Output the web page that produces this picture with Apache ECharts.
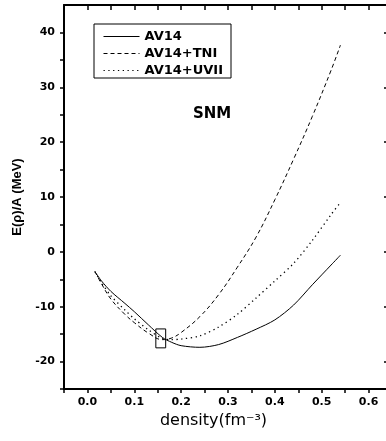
<!DOCTYPE html>
<html>
<head>
<meta charset="utf-8">
<script src="https://cdn.jsdelivr.net/npm/echarts@6/dist/echarts.min.js"></script>
<style>html,body{margin:0;padding:0;background:#fff}#c{width:386px;height:441px}</style>
</head>
<body>
<div id="c"></div>
<script>
var density  = [0.016, 0.03, 0.05, 0.08, 0.10, 0.13, 0.16, 0.18, 0.20, 0.24, 0.28, 0.32, 0.36, 0.40, 0.44, 0.48, 0.52, 0.54];
var av14     = [-3.6, -5.3, -7.2, -9.4, -10.9, -13.3, -15.6, -16.5, -17.1, -17.4, -16.9, -15.6, -14.1, -12.4, -9.7, -6.0, -2.4, -0.6];
var av14tni  = [-3.6, -5.8, -8.6, -11.4, -12.9, -14.8, -16.0, -15.7, -14.7, -11.8, -7.8, -2.8, 2.7, 9.5, 16.9, 24.7, 33.1, 37.7];
var av14uvii = [-3.6, -5.6, -8.0, -10.6, -12.2, -14.2, -15.8, -16.0, -15.9, -15.3, -13.7, -11.4, -8.4, -5.3, -2.1, 2.1, 6.8, 9.0];
var seriesNames = ['AV14', 'AV14+TNI', 'AV14+UVII'];
var xTicks = [-0.05, 0, 0.05, 0.1, 0.15, 0.2, 0.25, 0.3, 0.35, 0.4, 0.45, 0.5, 0.55, 0.6];
var xLabels = [0, 0.1, 0.2, 0.3, 0.4, 0.5, 0.6];
var yTicks = [-25, -20, -15, -10, -5, 0, 5, 10, 15, 20, 25, 30, 35, 40];
var yLabels = [-20, -10, 0, 10, 20, 30, 40];
var boxCorners = [[0.146, -14.05], [0.167, -17.5]];
var annotation = 'SNM';

function pairs(ys){ return density.map(function(x,i){ return [x, ys[i]]; }); }

var axLine = {show:true, onZero:false, lineStyle:{color:'#000', width:2}};

var chart = echarts.init(document.getElementById('c'), null, {renderer:'canvas'});
chart.setOption({
  animation:false,
  backgroundColor:'#fff',
  grid:{left:64, top:5, width:328, bottom:52, containLabel:false, outerBoundsMode:'none'},
  legend:{
    orient:'vertical', left:94, top:24, data:seriesNames,
    itemWidth:36, itemHeight:14, itemGap:4,
    itemStyle:{opacity:0}, lineStyle:{width:1},
    padding:[6,8,1,9], borderColor:'#000', borderWidth:1, backgroundColor:'#fff',
    textStyle:{color:'#000', fontFamily:'DejaVu Sans', fontWeight:'bold', fontSize:13}
  },
  graphic:[{
    type:'text', left:193, top:107,
    style:{text:annotation, fill:'#000', font:'bold 15px "DejaVu Sans"'}
  }],
  xAxis:[{
    type:'value', position:'bottom', min:-0.05, max:0.65,
    axisLine:axLine,
    axisTick:{show:true, inside:false, length:4, customValues:xTicks, lineStyle:{color:'#000', width:1.5}},
    axisLabel:{show:true, margin:8, customValues:xLabels, formatter:function(v){return v.toFixed(1);}, color:'#000', fontFamily:'DejaVu Sans', fontWeight:'bold', fontSize:11},
    splitLine:{show:false},
    name:'density(fm\u207B\u00B3)', nameLocation:'middle', nameGap:19,
    nameTextStyle:{color:'#000', fontFamily:'DejaVu Sans', fontSize:16, padding:[0,29,0,0]}
  },{
    type:'value', position:'top', min:-0.05, max:0.65,
    axisLine:axLine,
    axisTick:{show:true, inside:true, length:5, customValues:xTicks, lineStyle:{color:'#000', width:1.5}},
    axisLabel:{show:false}, splitLine:{show:false}
  }],
  yAxis:[{
    type:'value', position:'left', min:-25, max:45,
    axisLine:axLine,
    axisTick:{show:true, inside:false, length:4, customValues:yTicks, lineStyle:{color:'#000', width:1.5}},
    axisLabel:{show:true, margin:9, customValues:yLabels, color:'#000', fontFamily:'DejaVu Sans', fontWeight:'bold', fontSize:11},
    splitLine:{show:false},
    name:'E(\u03C1)/A (MeV)', nameLocation:'middle', nameGap:23, nameRotate:90,
    nameTextStyle:{color:'#000', fontFamily:'Liberation Sans', fontWeight:'bold', fontSize:13}
  },{
    type:'value', position:'right', min:-25, max:45,
    axisLine:axLine,
    axisTick:{show:true, inside:true, length:8, customValues:yLabels, lineStyle:{color:'#000', width:1.5}},
    axisLabel:{show:false}, splitLine:{show:false}
  }],
  series:[{
    name:seriesNames[0], type:'line', data:pairs(av14), smooth:0.3, symbol:'none',
    lineStyle:{color:'#000', width:1, type:'solid'}, itemStyle:{color:'#000'},
    markArea:{silent:true, itemStyle:{color:'rgba(0,0,0,0)', borderColor:'#000', borderWidth:1},
      data:[[{coord:boxCorners[0]},{coord:boxCorners[1]}]]}
  },{
    name:seriesNames[1], type:'line', data:pairs(av14tni), smooth:0.4, symbol:'none',
    lineStyle:{color:'#000', width:1, type:[4,3]}, itemStyle:{color:'#000'}
  },{
    name:seriesNames[2], type:'line', data:pairs(av14uvii), smooth:0.3, symbol:'none',
    lineStyle:{color:'#000', width:1.3, type:[1.3,3.5]}, itemStyle:{color:'#000'}
  }]
});
</script>
</body>
</html>
